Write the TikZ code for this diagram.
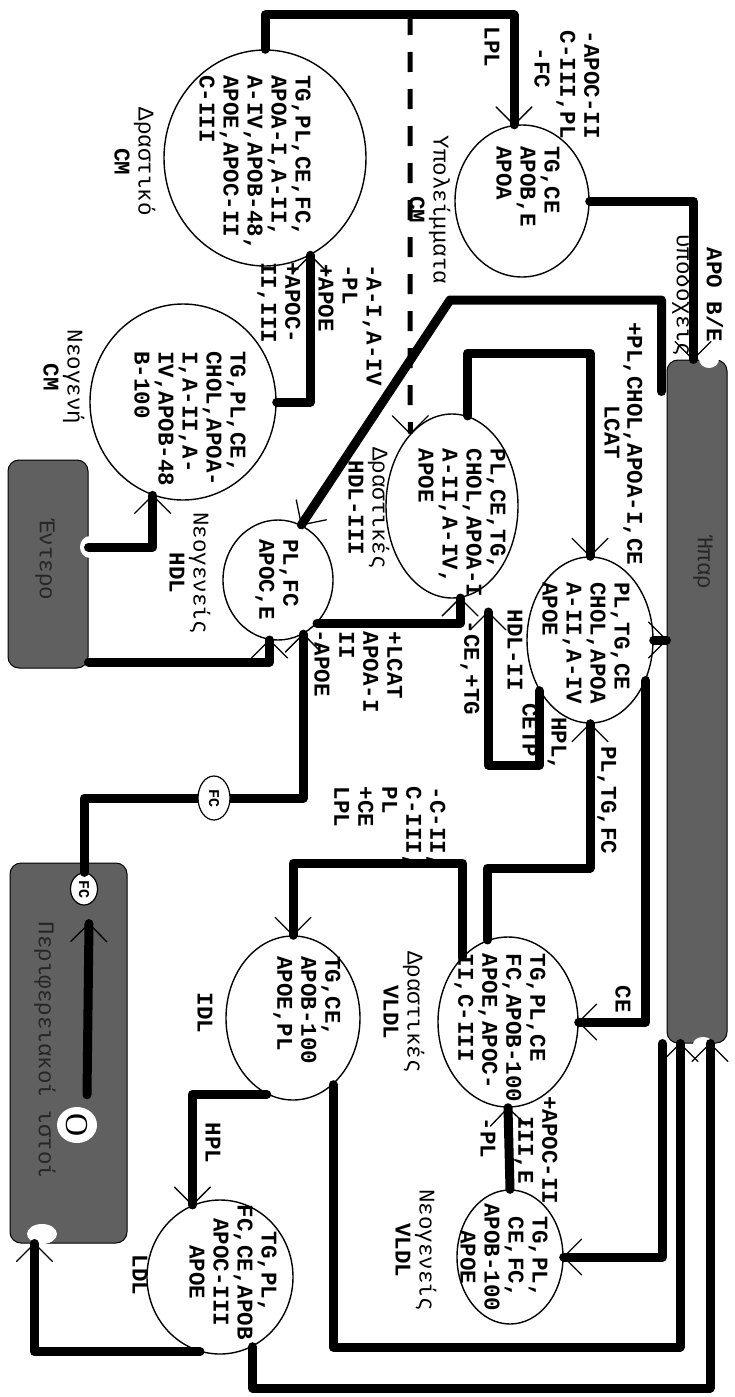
\documentclass[tikz,border=0pt]{standalone}
\usepackage{fontspec}
\usetikzlibrary{shapes.geometric,decorations.markings}
\newfontfamily\monofam{Liberation Mono}
\newfontfamily\seriffam{Liberation Serif}
\newcommand{\tfont}{\monofam\bfseries\fontsize{22.5}{24}\selectfont}
\newcommand{\gfont}{\monofam\fontsize{22.5}{24}\selectfont}
\newcommand{\smallfc}{\monofam\bfseries\fontsize{15}{16}\selectfont}
\definecolor{bargray}{RGB}{96,96,96}
\tikzset{
  conn/.style={line width=9pt, line cap=round, line join=round},
  dconn/.style={line width=5pt, dash pattern=on 20pt off 17pt},
  barb/.style={postaction={decorate,decoration={markings,mark=at position 1 with {\draw[line width=1.3pt,solid,line cap=round] (-18pt,18pt) -- (0pt,0pt) -- (-18pt,-18pt);}}}},
  circ/.style={draw, ellipse, line width=1.4pt, inner sep=0pt},
  txt/.style={rotate=-90, font=\tfont, inner sep=0pt, align=left},
  ctxt/.style={rotate=-90, font=\tfont, inner sep=0pt, align=center},
  gk/.style={rotate=-90, font=\gfont, inner sep=0pt, align=center},
  organ/.style={draw=black, line width=1pt, fill=bargray, rounded corners=11pt, inner sep=0pt},
  notch/.style={fill=white, draw=none, ellipse, inner sep=0pt},
  wcirc/.style={fill=white, draw=black, line width=1.2pt, ellipse, inner sep=0pt},
}
\begin{document}
\begin{tikzpicture}[x=1pt,y=-1pt]
\fill[white] (0,0) rectangle (734,1397);
\useasboundingbox (0,0) rectangle (734,1397);

% organs
\node[organ, minimum width=60pt, minimum height=683pt] (liver) at (697,701.5) {};
\node[organ, minimum width=80pt, minimum height=208pt] (gut) at (48,564) {};
\node[organ, minimum width=117pt, minimum height=380pt] (peri) at (68.5,1053) {};
\node[notch, minimum width=20pt, minimum height=18pt] (nliv1) at (709,359) {};
\node[notch, minimum width=20pt, minimum height=14pt] (nliv2) at (703,1044) {};
\node[notch, minimum width=20pt, minimum height=22pt] (ngut) at (90,547) {};
\node[notch, minimum width=30pt, minimum height=20pt] (nperi) at (42,1234) {};
\node[wcirc, minimum width=27pt, minimum height=32pt] (fcin) at (84,889) {};
\node[notch, minimum width=40pt, minimum height=36pt] (ocirc) at (77,1125) {};

% lipoprotein particles
\node[circ, minimum width=202pt, minimum height=216pt] (cm) at (265,158) {};
\node[circ, minimum width=186pt, minimum height=196pt] (ncm) at (183,402) {};
\node[circ, minimum width=134pt, minimum height=152pt] (rem) at (522,201) {};
\node[circ, minimum width=132pt, minimum height=184pt] (hdl3) at (452,506) {};
\node[circ, minimum width=126pt, minimum height=166pt] (hdl2) at (590,640) {};
\node[circ, minimum width=110pt, minimum height=120pt] (nhdl) at (278,580) {};
\node[circ, minimum width=140pt, minimum height=170pt] (vldl) at (508,1022) {};
\node[circ, minimum width=106pt, minimum height=134pt] (nvldl) at (510,1257) {};
\node[circ, minimum width=134pt, minimum height=164pt] (idl) at (293,1018) {};
\node[circ, minimum width=146pt, minimum height=154pt] (ldl) at (220,1277) {};

% corner coordinates
\coordinate (ttop) at (400,15);
\coordinate (dtop) at (410,15);
\coordinate (d2) at (450,300);
\coordinate (k7) at (530,353);
\coordinate (hplend) at (488,612);
\coordinate (k1) at (488,765);
\coordinate (k2) at (540,868);
\coordinate (k3) at (380,863);
\coordinate (k4) at (500,1347);
\coordinate (k5) at (500,1388);
\coordinate (k6) at (200,798);

% connectors
\draw[conn,barb] (cm.north) |- (ttop) -| (rem.96);
\draw[dconn,barb] (dtop) -- (hdl3.120);
\draw[conn,barb] (rem.east) -| ([xshift=-4pt]liver.north);
\draw[conn,barb] (ncm.east) -| (cm.-65);
\draw[conn,barb] ([yshift=17pt]gut.east) -| (ncm.-108);
\draw[conn,barb] ([xshift=-5pt,yshift=-32pt]liver.north west) |- (d2) -- (nhdl.67);
\draw[conn,barb] (hdl3.80) |- (k7) -| (hdl2.north);
\draw[conn,barb] (nhdl.-48) -| (hdl3.-85);
\draw[conn,barb] (hdl2.-135) |- (k1) -- (hplend);
\draw[conn,barb] (hdl2.east) -- (hdl2.east -| liver.west);
\draw[conn,barb] (hdl2.-36) |- (vldl.east);
\draw[conn,barb] (vldl.104) |- (k2) -| (hdl2.south);
\draw[conn,barb] (vldl.125) |- (k3) -| (idl.north);
\draw[conn,barb] (nvldl.north) -- (vldl.south);
\draw[conn,barb] ([xshift=-4pt]liver.south west) |- (nvldl.east);
\draw[conn,barb] (idl.-59) |- (k4) -| ([xshift=-17pt]liver.south);
\draw[conn,barb] (idl.-109) -| (ldl.111);
\draw[conn,barb] (ldl.-105) -| ([xshift=25pt]peri.south west);
\draw[conn,barb] (ldl.-65) |- (k5) -| ([xshift=13pt]liver.south);
\draw[conn,barb] (fcin.north) |- (k6) -| (nhdl.-65);
\draw[conn,barb] ([shift={(10pt,12pt)}]ocirc.north) -- ([shift={(5pt,-18pt)}]fcin.south);
\draw[conn,barb] ([yshift=-98pt]gut.east) -| (nhdl.-98);

% small FC markers
\node[wcirc, minimum width=32pt, minimum height=44pt] (fcmid) at (214,798) {};
\node[rotate=-90, font=\smallfc, inner sep=0pt] (fcmid-t) at (214,798) {FC};
\node[rotate=-90, font=\smallfc, inner sep=0pt] (fcin-t) at (84,889) {FC};
\node[rotate=-90, font=\seriffam\fontsize{32}{32}\selectfont, inner sep=0pt] (ocirc-t) at (77,1125) {O};

% organ labels
\node[gk, text=black!85] (liver-t) at (703,562) {Ήπαρ};
\node[gk, text=black!85] (gut-t) at (45,560) {Έντερο};
\node[gk, text=black!85] (peri-t) at (45,1050) {Περιφερειακοί ιστοί};

% particle contents
\node[txt] (cm-t) at (255,163) {TG,PL,CE,FC,\\APOA-I,A-II,\\A-IV,APOB-48,\\APOE,APOC-II\\C-III};
\node[gk] (cm-l) at (135,162) {Δραστικό\\{\bfseries CM}};
\node[txt] (ncm-t) at (190,419) {TG,PL,CE,\\CHOL,APOA-\\I,A-II,A-\\IV,APOB-48\\B-100};
\node[gk] (ncm-l) at (64,377) {Νεογενή\\{\bfseries CM}};
\node[txt] (rem-t) at (528,187) {TG,CE\\APOB,E\\APOA};
\node[gk] (rem-l) at (430,210) {Υπολείμματα\\{\bfseries CM}};
\node[txt] (hdl3-t) at (462,523) {PL,CE,TG,\\CHOL,APOA-I\\A-II,A-IV,\\APOE};
\node[gk] (hdl3-l) at (369,508) {Δραστικές\\{\bfseries HDL-III}};
\node[txt] (hdl2-t) at (586,643) {PL,TG,CE\\CHOL,APOA\\A-II,A-IV\\APOE};
\node[txt] (hdl2-l) at (515,650) {HDL-II};
\node[txt] (nhdl-t) at (277,580) {PL,FC\\APOC,E};
\node[gk] (nhdl-l) at (190,573) {Νεογενείς\\{\bfseries HDL}};
\node[txt] (vldl-t) at (500,1028) {TG,PL,CE\\FC,APOB-100\\APOE,APOC-\\II,C-III};
\node[gk] (vldl-l) at (404,1012) {Δραστικές\\{\bfseries VLDL}};
\node[ctxt] (nvldl-t) at (504,1257) {TG,PL,\\CE,FC,\\APOB-100\\APOE};
\node[gk] (nvldl-l) at (416,1250) {Νεογενείς\\{\bfseries VLDL}};
\node[txt] (idl-t) at (307,1010) {TG,CE,\\APOB-100\\APOE,PL};
\node[txt] (idl-l) at (205,1013) {IDL};
\node[ctxt] (ldl-t) at (233,1272) {TG,PL,\\FC,CE,APOB\\APOC-III\\APOE};
\node[txt] (ldl-l) at (140,1275) {LDL};

% connector labels
\node[txt] (e1) at (492,47) {LPL};
\node[txt] (e2) at (578,85) {-APOC-II\\C-III,PL};
\node[txt] (e3) at (542,68) {-FC};
\node[txt] (e4) at (715,295) {APO B/E};
\node[gk] (e5) at (683,295) {υποδοχείς};
\node[txt] (e6) at (633,444) {+PL,CHOL,APOA-I,CE};
\node[txt] (e7) at (612,432) {LCAT};
\node[txt] (e8) at (350,325) {-A-I,A-IV\\-PL\\+APOE};
\node[txt] (e9) at (279,303) {+APOC-\\II,III};
\node[txt] (e10) at (371,672) {+LCAT\\APOA-I\\II};
\node[txt] (e11) at (322,663) {-APOE};
\node[txt] (e12) at (470,668) {-CE,+TG};
\node[txt] (e13) at (557,744) {HPL,};
\node[txt] (e14) at (530,730) {CETP};
\node[txt] (e15) at (607,800) {PL,TG,FC};
\node[txt] (e16) at (623,999) {CE};
\node[txt] (e17) at (390,827) {-C-II,\\C-III,\\PL\\+CE\\LPL};
\node[ctxt] (e18) at (536,1150) {+APOC-II\\III,E};
\node[txt] (e19) at (488,1138) {-PL};
\node[txt] (e20) at (213,1143) {HPL};
\end{tikzpicture}
\end{document}
